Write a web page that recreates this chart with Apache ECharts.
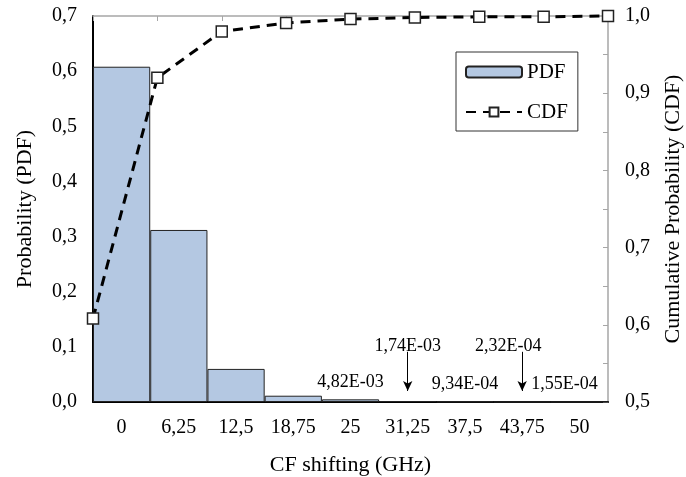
<!DOCTYPE html>
<html>
<head>
<meta charset="utf-8">
<script src="https://cdn.jsdelivr.net/npm/echarts@6/dist/echarts.min.js"></script>
<style>
  html, body { margin: 0; padding: 0; background: #fff; }
  #chart { width: 686px; height: 477px; }
</style>
</head>
<body>
<div id="chart"></div>
<script>
// CF shifting bins (GHz)
var categories = ["0", "6,25", "12,5", "18,75", "25", "31,25", "37,5", "43,75", "50"];
// probability per bin
var pdfValues = [0.608, 0.312, 0.060, 0.0114, 4.82e-3, 1.74e-3, 9.34e-4, 2.32e-4, 1.55e-4];
// cumulative probability
var cdfValues = [0.608, 0.920, 0.980, 0.991, 0.996, 0.998, 0.999, 0.999, 1.000];

var font = "Liberation Serif";

function comma(v) {
  return v.toFixed(1).replace(".", ",");
}

// 4.82e-3 -> "4,82E-03"
function sci(v) {
  var parts = v.toExponential(2).split("e");
  var exp = parseInt(parts[1], 10);
  var sign = exp < 0 ? "-" : "+";
  var digits = Math.abs(exp) < 10 ? "0" + Math.abs(exp) : "" + Math.abs(exp);
  return parts[0].replace(".", ",") + "E" + sign + digits;
}

// small bars get a value label, the ones with an arrow sit higher
var barData = pdfValues.map(function (v, i) {
  if (v >= 0.01) return v;
  var high = i === 5 || i === 7;
  var dx = i === 7 ? -14 : i === 8 ? -15 : 0;
  return {
    value: v,
    label: {
      show: true,
      position: "top",
      distance: high ? 46 : 8,
      offset: [dx, 0],
      formatter: function (p) { return sci(p.value); },
      color: "#000",
      fontFamily: font,
      fontSize: 18,
    },
  };
});

var chart = echarts.init(document.getElementById("chart"), null, { renderer: "canvas" });

chart.setOption({
  backgroundColor: "#fff",
  animation: false,
  textStyle: { fontFamily: font, color: "#000" },
  grid: { left: 93, right: 78, top: 16, bottom: 75, containLabel: false, outerBoundsMode: "none" },
  legend: {
    orient: "vertical",
    left: 456,
    top: 52,
    padding: [8, 10, 7, 9],
    itemWidth: 56,
    itemHeight: 11,
    itemGap: 16,
    borderColor: "#333",
    borderWidth: 1,
    textStyle: { fontFamily: font, fontSize: 21, color: "#000", lineHeight: 24 },
    data: ["PDF", "CDF"],
  },
  xAxis: [
    {
      type: "category",
      data: categories,
      position: "bottom",
      name: "CF shifting (GHz)",
      nameLocation: "middle",
      nameGap: 52,
      nameTextStyle: { fontFamily: font, fontSize: 22, color: "#000" },
      axisLine: { lineStyle: { color: "#000", width: 2 } },
      axisTick: { inside: true, length: 5, interval: 0, lineStyle: { color: "#000", width: 1 } },
      axisLabel: { interval: 0, margin: 16, fontFamily: font, fontSize: 20, color: "#000" },
      splitLine: { show: false },
    },
    {
      type: "category",
      data: categories,
      position: "top",
      boundaryGap: false,
      axisLine: { lineStyle: { color: "#a6a6a6", width: 1.5 } },
      axisTick: { inside: true, length: 5, interval: 0, lineStyle: { color: "#a6a6a6", width: 1 } },
      axisLabel: { show: false },
      splitLine: { show: false },
    },
  ],
  yAxis: [
    {
      type: "value",
      min: 0,
      max: 0.7,
      interval: 0.1,
      name: "Probability (PDF)",
      nameLocation: "middle",
      nameGap: 57,
      nameTextStyle: { fontFamily: font, fontSize: 22, color: "#000" },
      axisLine: { show: true, lineStyle: { color: "#000", width: 2 } },
      axisTick: { show: false },
      axisLabel: { margin: 16, formatter: comma, fontFamily: font, fontSize: 20, color: "#000" },
      splitLine: { show: false },
    },
    {
      type: "value",
      min: 0.5,
      max: 1.0,
      interval: 0.1,
      name: "Cumulative Probability (CDF)",
      nameLocation: "middle",
      nameGap: 54,
      nameRotate: 90,
      nameTextStyle: { fontFamily: font, fontSize: 22, color: "#000" },
      axisLine: { show: true, lineStyle: { color: "#a6a6a6", width: 1.5 } },
      axisTick: { show: true, inside: true, length: 5, lineStyle: { color: "#a6a6a6" } },
      minorTick: { show: true, splitNumber: 2, length: 5, lineStyle: { color: "#a6a6a6" } },
      axisLabel: { margin: 17, formatter: comma, fontFamily: font, fontSize: 20, color: "#000" },
      splitLine: { show: false },
    },
  ],
  series: [
    {
      name: "PDF",
      type: "bar",
      xAxisIndex: 0,
      yAxisIndex: 0,
      barCategoryGap: "0%",
      data: barData,
      itemStyle: { color: "#b4c8e2", borderColor: "#222", borderWidth: 1 },
      markLine: {
        silent: true,
        symbol: ["none", "arrow"],
        symbolSize: [7, 10],
        label: { show: false },
        lineStyle: { color: "#000", width: 1, type: "solid" },
        data: [
          [{ coord: [5, 0.091] }, { coord: [5, 0.02] }],
          [{ coord: [7, 0.091] }, { coord: [7, 0.02] }],
        ],
      },
    },
    {
      name: "CDF",
      type: "line",
      xAxisIndex: 1,
      yAxisIndex: 1,
      data: cdfValues,
      symbol: "rect",
      symbolSize: 11,
      clip: false,
      lineStyle: { color: "#000", width: 3, type: [10, 7] },
      itemStyle: { color: "#fff", borderColor: "#222", borderWidth: 1.5 },
      z: 5,
    },
  ],
});
</script>
</body>
</html>
